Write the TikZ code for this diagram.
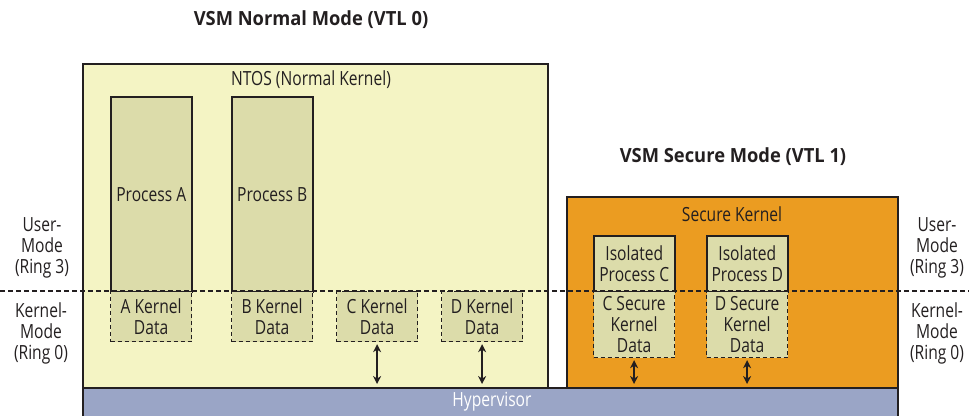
\documentclass[tikz,border=0pt]{standalone}
\usepackage{fontspec}
\setmainfont{Open Sans}[FakeStretch=0.8]
\newfontfamily\titlefont{Open Sans}[FakeStretch=0.94]
\usetikzlibrary{arrows.meta}
\definecolor{ntosfill}{HTML}{F4F4C4}
\definecolor{procfill}{HTML}{DCDCAA}
\definecolor{secfill}{HTML}{EB9C21}
\definecolor{hvfill}{HTML}{9AA5C6}
\definecolor{ink}{HTML}{231F20}
\begin{document}
\begin{tikzpicture}[x=1pt,y=-1pt,
  txt/.style={font=\fontsize{19.5}{21}\selectfont, text=ink, align=center, inner sep=0pt},
  ttl/.style={font=\titlefont\bfseries\fontsize{19.5}{22}\selectfont, text=ink, inner sep=0pt},
  bigbox/.style={draw=ink, line width=2pt, inner sep=0pt, anchor=north west},
  proc/.style={draw=ink, line width=1.5pt, fill=procfill, inner sep=0pt, anchor=north west, minimum width=81, txt},
  kdata/.style={draw=ink, dash pattern=on 4pt off 3pt, line width=1.2pt, fill=procfill, inner sep=0pt, anchor=north west, minimum width=81, txt},
  dbl/.style={{Stealth[length=8pt,width=8pt]}-{Stealth[length=8pt,width=8pt]}, line width=2.6pt, draw=ink, shorten <=2pt, shorten >=3pt}
]
\useasboundingbox (0,0) rectangle (969,415);
% titles
\node[ttl] (t0) at (311,20) {VSM Normal Mode (VTL 0)};
\node[ttl] (t1) at (733,157) {VSM Secure Mode (VTL 1)};
% hypervisor
\node[bigbox, fill=hvfill, minimum width=815, minimum height=32] (hv) at (82,387) {};
\node[txt, text=white] (hvt) at (492,402) {Hypervisor};
% NTOS
\node[bigbox, fill=ntosfill, minimum width=465, minimum height=324] (ntos) at (82,63) {};
\node[txt] (ntost) at (311,80) {NTOS (Normal Kernel)};
% Secure kernel
\node[bigbox, fill=secfill, minimum width=331, minimum height=191] (sk) at (566,196) {};
\node[txt] (skt) at (732,214) {Secure Kernel};
% processes
\node[proc, minimum height=195] (pa) at (110,96) {Process A};
\node[proc, minimum height=195] (pb) at (231,96) {Process B};
\node[kdata, minimum height=50] (ka) at (110,291) {A Kernel\\Data};
\node[kdata, minimum height=50] (kb) at (231,291) {B Kernel\\Data};
\node[kdata, minimum height=50] (kc) at (336,291) {C Kernel\\Data};
\node[kdata, minimum height=50] (kd) at (441,291) {D Kernel\\Data};
% isolated processes
\node[proc, minimum height=56] (ic) at (593,235) {Isolated\\Process C};
\node[proc, minimum height=56] (id) at (706,235) {Isolated\\Process D};
\node[kdata, minimum height=66] (sc) at (593,291) {C Secure\\Kernel\\Data};
\node[kdata, minimum height=66] (sd) at (706,291) {D Secure\\Kernel\\Data};
% arrows
\draw[dbl] (kc.south) -- (kc.south |- hv.north);
\draw[dbl] (kd.south) -- (kd.south |- hv.north);
\draw[dbl] (sc.south) -- (sc.south |- hv.north);
\draw[dbl] (sd.south) -- (sd.south |- hv.north);
% divider
\coordinate (dl) at (0,291);
\coordinate (dr) at (969,291);
\draw[dash pattern=on 5pt off 3pt, line width=1.3pt, ink] (dl) -- (dr);
% side labels
\node[txt] (ul) at (42,248) {User-\\Mode\\(Ring 3)};
\node[txt] (kl) at (41,333) {Kernel-\\Mode\\(Ring 0)};
\node[txt] (ur) at (937,248) {User-\\Mode\\(Ring 3)};
\node[txt] (kr) at (937,333) {Kernel-\\Mode\\(Ring 0)};
\end{tikzpicture}
\end{document}
